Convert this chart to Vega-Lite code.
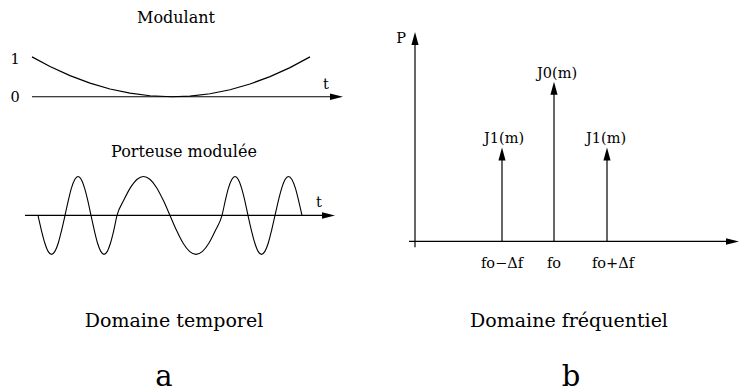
{
  "$schema": "https://vega.github.io/schema/vega-lite/v6.json",
  "width": 741,
  "height": 392,
  "autosize": {"type": "fit", "contains": "padding"},
  "padding": 0,
  "background": "white",
  "config": {"view": {"stroke": null}, "text": {"font": "DejaVu Serif"}},
  "datasets": {
    "lines": [
      {"g": "mod", "x": 32, "y": 57}, {"g": "mod", "x": 50, "y": 66.6}, {"g": "mod", "x": 70, "y": 75.8}, {"g": "mod", "x": 90, "y": 83.3}, {"g": "mod", "x": 110, "y": 89.2}, {"g": "mod", "x": 130, "y": 93.4}, {"g": "mod", "x": 150, "y": 96}, {"g": "mod", "x": 172, "y": 97}, {"g": "mod", "x": 190, "y": 96.3}, {"g": "mod", "x": 210, "y": 94}, {"g": "mod", "x": 230, "y": 90}, {"g": "mod", "x": 250, "y": 84.2}, {"g": "mod", "x": 270, "y": 76.8}, {"g": "mod", "x": 290, "y": 67.8}, {"g": "mod", "x": 310, "y": 57},
      {"g": "ax1", "x": 32, "y": 97}, {"g": "ax1", "x": 333, "y": 97},
      {"g": "ax2", "x": 25, "y": 216}, {"g": "ax2", "x": 326, "y": 216},
      {"g": "ax3", "x": 415, "y": 248}, {"g": "ax3", "x": 415, "y": 42},
      {"g": "ax4", "x": 409, "y": 242}, {"g": "ax4", "x": 730, "y": 242},
      {"g": "s1", "x": 502, "y": 242}, {"g": "s1", "x": 502, "y": 152},
      {"g": "s2", "x": 554, "y": 242}, {"g": "s2", "x": 554, "y": 86},
      {"g": "s3", "x": 607, "y": 242}, {"g": "s3", "x": 607, "y": 152}
    ],
    "wave": [
      {"x": 38, "y": 216}, {"x": 41.4, "y": 230.9}, {"x": 44.8, "y": 243.6}, {"x": 48.1, "y": 252}, {"x": 51.5, "y": 255}, {"x": 54.9, "y": 252}, {"x": 58.3, "y": 243.6}, {"x": 61.6, "y": 230.9}, {"x": 65, "y": 216},
      {"x": 68.3, "y": 201.1}, {"x": 71.5, "y": 188.4}, {"x": 74.8, "y": 180}, {"x": 78, "y": 177}, {"x": 81.3, "y": 180}, {"x": 84.5, "y": 188.4}, {"x": 87.8, "y": 201.1}, {"x": 91, "y": 216},
      {"x": 94.3, "y": 230.9}, {"x": 97.5, "y": 243.6}, {"x": 100.8, "y": 252}, {"x": 104, "y": 255}, {"x": 107.3, "y": 252}, {"x": 110.5, "y": 243.6}, {"x": 113.8, "y": 230.9}, {"x": 117, "y": 216},
      {"x": 123.6, "y": 201.1}, {"x": 130.3, "y": 188.4}, {"x": 136.9, "y": 180}, {"x": 143.5, "y": 177}, {"x": 150.1, "y": 180}, {"x": 156.8, "y": 188.4}, {"x": 163.4, "y": 201.1}, {"x": 170, "y": 216},
      {"x": 176.5, "y": 230.9}, {"x": 183, "y": 243.6}, {"x": 189.5, "y": 252}, {"x": 196, "y": 255}, {"x": 202.5, "y": 252}, {"x": 209, "y": 243.6}, {"x": 215.5, "y": 230.9}, {"x": 222, "y": 216},
      {"x": 225.3, "y": 201.1}, {"x": 228.5, "y": 188.4}, {"x": 231.8, "y": 180}, {"x": 235, "y": 177}, {"x": 238.3, "y": 180}, {"x": 241.5, "y": 188.4}, {"x": 244.8, "y": 201.1}, {"x": 248, "y": 216},
      {"x": 251.4, "y": 230.9}, {"x": 254.8, "y": 243.6}, {"x": 258.1, "y": 252}, {"x": 261.5, "y": 255}, {"x": 264.9, "y": 252}, {"x": 268.3, "y": 243.6}, {"x": 271.6, "y": 230.9}, {"x": 275, "y": 216},
      {"x": 278.4, "y": 201.1}, {"x": 281.8, "y": 188.4}, {"x": 285.1, "y": 180}, {"x": 288.5, "y": 177}, {"x": 291.9, "y": 180}, {"x": 295.3, "y": 188.4}, {"x": 298.6, "y": 201.1}, {"x": 302, "y": 216}
    ],
    "heads": [
      {"d": "right", "x": 336.5, "y": 97},
      {"d": "right", "x": 328.5, "y": 216},
      {"d": "right", "x": 732.5, "y": 242},
      {"d": "up", "x": 415, "y": 38.5},
      {"d": "up", "x": 502, "y": 154.5},
      {"d": "up", "x": 554, "y": 88.5},
      {"d": "up", "x": 607, "y": 154.5}
    ],
    "texts": [
      {"k": "s", "t": "1", "x": 15, "y": 64},
      {"k": "s", "t": "0", "x": 15, "y": 102},
      {"k": "s", "t": "t", "x": 326, "y": 89},
      {"k": "s", "t": "t", "x": 319, "y": 208},
      {"k": "s", "t": "P", "x": 401, "y": 43},
      {"k": "s", "t": "J1(m)", "x": 504, "y": 143},
      {"k": "s", "t": "J0(m)", "x": 557, "y": 78},
      {"k": "s", "t": "J1(m)", "x": 606, "y": 143},
      {"k": "s", "t": "fo−Δf", "x": 502, "y": 269},
      {"k": "s", "t": "fo", "x": 554, "y": 269},
      {"k": "s", "t": "fo+Δf", "x": 613, "y": 269},
      {"k": "m", "t": "Modulant", "x": 176, "y": 23},
      {"k": "m", "t": "Porteuse  modulée", "x": 184, "y": 157},
      {"k": "l", "t": "Domaine temporel", "x": 174, "y": 328},
      {"k": "l", "t": "Domaine fréquentiel", "x": 569, "y": 328},
      {"k": "xl", "t": "a", "x": 164, "y": 387},
      {"k": "xl", "t": "b", "x": 571, "y": 387}
    ]
  },
  "encoding": {
    "x": {"field": "x", "type": "quantitative", "scale": {"domain": [0, 741], "nice": false, "zero": false}, "axis": null},
    "y": {"field": "y", "type": "quantitative", "scale": {"domain": [392, 0], "nice": false, "zero": false}, "axis": null}
  },
  "layer": [
    {
      "data": {"name": "lines"},
      "mark": {"type": "line", "color": "black", "strokeWidth": 1.2},
      "encoding": {"detail": {"field": "g", "type": "nominal"}}
    },
    {
      "data": {"name": "wave"},
      "mark": {"type": "line", "color": "black", "strokeWidth": 1.1, "interpolate": "monotone"},
      "encoding": {}
    },
    {
      "data": {"name": "heads"},
      "transform": [{"filter": "datum.d === 'right'"}],
      "mark": {"type": "point", "shape": "M1,0L-1,-0.5L-1,0.5Z", "filled": true, "color": "black", "opacity": 1, "size": 169}
    },
    {
      "data": {"name": "heads"},
      "transform": [{"filter": "datum.d === 'up'"}],
      "mark": {"type": "point", "shape": "M0,-1L0.55,1L-0.55,1Z", "filled": true, "color": "black", "opacity": 1, "size": 169}
    },
    {
      "data": {"name": "texts"},
      "transform": [{"filter": "datum.k === 's'"}],
      "mark": {"type": "text", "font": "DejaVu Serif", "fontSize": 14.5, "align": "center", "baseline": "alphabetic", "color": "black"},
      "encoding": {"text": {"field": "t"}}
    },
    {
      "data": {"name": "texts"},
      "transform": [{"filter": "datum.k === 'm'"}],
      "mark": {"type": "text", "font": "DejaVu Serif", "fontSize": 16, "align": "center", "baseline": "alphabetic", "color": "black"},
      "encoding": {"text": {"field": "t"}}
    },
    {
      "data": {"name": "texts"},
      "transform": [{"filter": "datum.k === 'l'"}],
      "mark": {"type": "text", "font": "DejaVu Serif", "fontSize": 19, "align": "center", "baseline": "alphabetic", "color": "black"},
      "encoding": {"text": {"field": "t"}}
    },
    {
      "data": {"name": "texts"},
      "transform": [{"filter": "datum.k === 'xl'"}],
      "mark": {"type": "text", "font": "DejaVu Serif", "fontSize": 29, "align": "center", "baseline": "alphabetic", "color": "black"},
      "encoding": {"text": {"field": "t"}}
    }
  ]
}
